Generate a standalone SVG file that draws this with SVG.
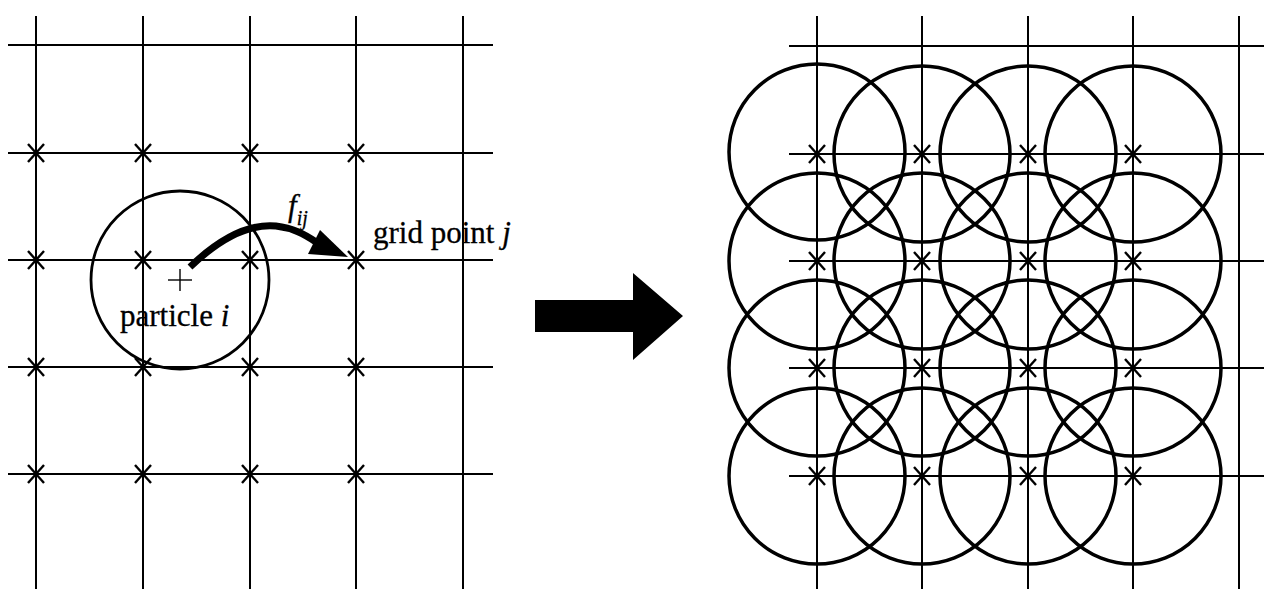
<svg xmlns="http://www.w3.org/2000/svg" xmlns:xlink="http://www.w3.org/1999/xlink" width="1264" height="589" viewBox="0 0 1264 589">
<style>
.grid{stroke:#000;stroke-width:2;fill:none}
.circ{stroke:#000;stroke-width:3.5;fill:none}
.ast{stroke:#000;stroke-width:2.4;fill:none}
.txt{font-family:"Liberation Serif","Times New Roman",serif;font-size:31px;fill:#000;stroke:#000;stroke-width:0.3}
.it{font-style:italic}
</style>
<defs>
<g id="star"><line x1="-8" y1="-9" x2="8" y2="9"/><line x1="-8" y1="9" x2="8" y2="-9"/></g>
</defs>
<rect width="1264" height="589" fill="#fff"/>
<g id="left-grid" class="grid">
<line x1="8" y1="45" x2="493" y2="45"/>
<line x1="8" y1="153" x2="493" y2="153"/>
<line x1="8" y1="260" x2="493" y2="260"/>
<line x1="8" y1="367" x2="493" y2="367"/>
<line x1="8" y1="474" x2="493" y2="474"/>
<line x1="36" y1="16" x2="36" y2="589"/>
<line x1="143" y1="16" x2="143" y2="589"/>
<line x1="250" y1="16" x2="250" y2="589"/>
<line x1="356" y1="16" x2="356" y2="589"/>
<line x1="463" y1="16" x2="463" y2="589"/>
</g>
<g id="left-gridpoints" class="ast">
<use xlink:href="#star" x="36" y="153"/><use xlink:href="#star" x="143" y="153"/><use xlink:href="#star" x="250" y="153"/><use xlink:href="#star" x="356" y="153"/>
<use xlink:href="#star" x="36" y="260"/><use xlink:href="#star" x="143" y="260"/><use xlink:href="#star" x="250" y="260"/><use xlink:href="#star" x="356" y="260"/>
<use xlink:href="#star" x="36" y="367"/><use xlink:href="#star" x="143" y="367"/><use xlink:href="#star" x="250" y="367"/><use xlink:href="#star" x="356" y="367"/>
<use xlink:href="#star" x="36" y="474"/><use xlink:href="#star" x="143" y="474"/><use xlink:href="#star" x="250" y="474"/><use xlink:href="#star" x="356" y="474"/>
</g>
<g id="particle-i">
<circle cx="180" cy="280" r="89" fill="none" stroke="#000" stroke-width="2.8"/>
<line x1="168" y1="280" x2="192" y2="280" stroke="#000" stroke-width="1.4"/>
<line x1="180" y1="269" x2="180" y2="291" stroke="#000" stroke-width="1.4"/>
<text x="120" y="326" class="txt">particle <tspan class="it">i</tspan></text>
</g>
<g id="grid-point-j">
<text x="373" y="243" class="txt">grid point <tspan class="it">j</tspan></text>
</g>
<g id="connectors">
<path d="M190,267 C215,243 245,223 276,226 C293,228 304,234 316,242" fill="none" stroke="#000" stroke-width="7"/>
<polygon points="320,230 348,257 308,254" fill="#000"/>
<text x="288" y="216" class="txt it" font-size="32">f<tspan font-size="20" dy="9">ij</tspan></text>
<polygon points="535,300 633,300 633,273 683,316 633,360 633,332 535,332" fill="#000"/>
</g>
<g id="right-grid" class="grid">
<line x1="789" y1="46" x2="1264" y2="46"/>
<line x1="789" y1="154" x2="1264" y2="154"/>
<line x1="789" y1="261" x2="1264" y2="261"/>
<line x1="789" y1="368" x2="1264" y2="368"/>
<line x1="789" y1="476" x2="1264" y2="476"/>
<line x1="817" y1="16" x2="817" y2="589"/>
<line x1="922" y1="16" x2="922" y2="589"/>
<line x1="1028" y1="16" x2="1028" y2="589"/>
<line x1="1133" y1="16" x2="1133" y2="589"/>
<line x1="1239" y1="16" x2="1239" y2="589"/>
</g>
<g id="right-gridpoints" class="ast">
<use xlink:href="#star" x="817" y="154"/><use xlink:href="#star" x="922" y="154"/><use xlink:href="#star" x="1028" y="154"/><use xlink:href="#star" x="1133" y="154"/>
<use xlink:href="#star" x="817" y="261"/><use xlink:href="#star" x="922" y="261"/><use xlink:href="#star" x="1028" y="261"/><use xlink:href="#star" x="1133" y="261"/>
<use xlink:href="#star" x="817" y="368"/><use xlink:href="#star" x="922" y="368"/><use xlink:href="#star" x="1028" y="368"/><use xlink:href="#star" x="1133" y="368"/>
<use xlink:href="#star" x="817" y="476"/><use xlink:href="#star" x="922" y="476"/><use xlink:href="#star" x="1028" y="476"/><use xlink:href="#star" x="1133" y="476"/>
</g>
<g id="right-particles" class="circ">
<circle cx="817" cy="152" r="88"/><circle cx="922" cy="154" r="88"/><circle cx="1028" cy="154" r="88"/><circle cx="1133" cy="154" r="88"/>
<circle cx="817" cy="261" r="88"/><circle cx="922" cy="261" r="88"/><circle cx="1028" cy="261" r="88"/><circle cx="1133" cy="261" r="88"/>
<circle cx="817" cy="368" r="88"/><circle cx="922" cy="368" r="88"/><circle cx="1028" cy="368" r="88"/><circle cx="1133" cy="368" r="88"/>
<circle cx="817" cy="476" r="88"/><circle cx="922" cy="476" r="88"/><circle cx="1028" cy="476" r="88"/><circle cx="1133" cy="476" r="88"/>
</g>
</svg>
